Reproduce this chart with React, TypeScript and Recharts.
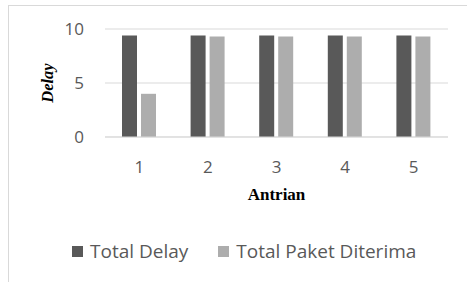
import { BarChart, Bar, XAxis, YAxis, CartesianGrid, Legend, Label } from 'recharts';

const antrian = ['1', '2', '3', '4', '5'];
const totalDelay = [9.4, 9.4, 9.4, 9.4, 9.4];
const totalPaketDiterima = [4.0, 9.3, 9.3, 9.3, 9.3];
const yTicks = [0, 5, 10];

const DARK = '#595959';
const LIGHT = '#ADADAD';
const FONT = '"Open Sans", "Noto Sans", sans-serif';
const SERIF = '"Liberation Serif", "Times New Roman", serif';

const data = antrian.map((name, i) => ({
  name,
  delay: totalDelay[i],
  paket: totalPaketDiterima[i],
}));

function DelayLabel(props: any) {
  const vb = props.viewBox || { x: 0, y: 0, width: 0, height: 0 };
  const cx = vb.x + 47;
  const cy = vb.y + vb.height / 2;
  return (
    <text
      x={cx}
      y={cy}
      transform={`rotate(-90 ${cx} ${cy})`}
      textAnchor="middle"
      dominantBaseline="central"
      fontFamily={SERIF}
      fontStyle="italic"
      fontWeight="bold"
      fontSize={16.5}
      fill="#000"
    >
      Delay
    </text>
  );
}

function LegendContent() {
  const items = [
    { label: 'Total Delay', color: DARK },
    { label: 'Total Paket Diterima', color: LIGHT },
  ];
  return (
    <div style={{ display: 'flex', alignItems: 'center', height: 24, fontFamily: FONT, fontSize: 19, color: DARK }}>
      {items.map((it, i) => (
        <div key={it.label} style={{ display: 'flex', alignItems: 'center', marginRight: i === 0 ? 30 : 0 }}>
          <span style={{ display: 'inline-block', width: 11, height: 11, background: it.color, marginRight: 7 }} />
          <span style={{ whiteSpace: 'nowrap' }}>{it.label}</span>
        </div>
      ))}
    </div>
  );
}

export default function App() {
  return (
    <div style={{ position: 'absolute', left: 0, top: 0, width: 467, height: 282, background: '#fff' }}>
      <div
        style={{
          position: 'absolute',
          left: 8,
          top: 5,
          right: 0,
          bottom: 0,
          borderTop: '1px solid #d9d9d9',
          borderLeft: '1px solid #d9d9d9',
        }}
      />
      <div style={{ position: 'absolute', left: 0, top: 0 }}>
        <BarChart
          width={467}
          height={282}
          data={data}
          margin={{ top: 29, right: 19, bottom: 61, left: 0 }}
          barSize={15}
          barGap={4}
        >
          <CartesianGrid vertical={false} stroke="#d9d9d9" strokeWidth={1} />
          <XAxis
            dataKey="name"
            height={60}
            axisLine={{ stroke: '#d9d9d9' }}
            tickLine={false}
            tickSize={0}
            tickMargin={24}
            tick={{ fill: DARK, fontSize: 17, fontFamily: FONT }}
          >
            <Label
              value="Antrian"
              position="insideTop"
              offset={51}
              style={{ fontFamily: SERIF, fontWeight: 'bold', fontSize: 17, fill: '#000' }}
            />
          </XAxis>
          <YAxis
            width={105}
            domain={[0, 10]}
            ticks={yTicks}
            axisLine={false}
            tickLine={false}
            tickSize={0}
            tickMargin={21}
            tick={{ fill: DARK, fontSize: 17, fontFamily: FONT }}
          >
            <Label content={<DelayLabel />} />
          </YAxis>
          <Legend
            content={<LegendContent />}
            wrapperStyle={{ top: 239, left: 72, width: 'auto', height: 24, bottom: 'auto' }}
          />
          <Bar dataKey="delay" name="Total Delay" fill={DARK} isAnimationActive={false} />
          <Bar dataKey="paket" name="Total Paket Diterima" fill={LIGHT} isAnimationActive={false} />
        </BarChart>
      </div>
    </div>
  );
}
